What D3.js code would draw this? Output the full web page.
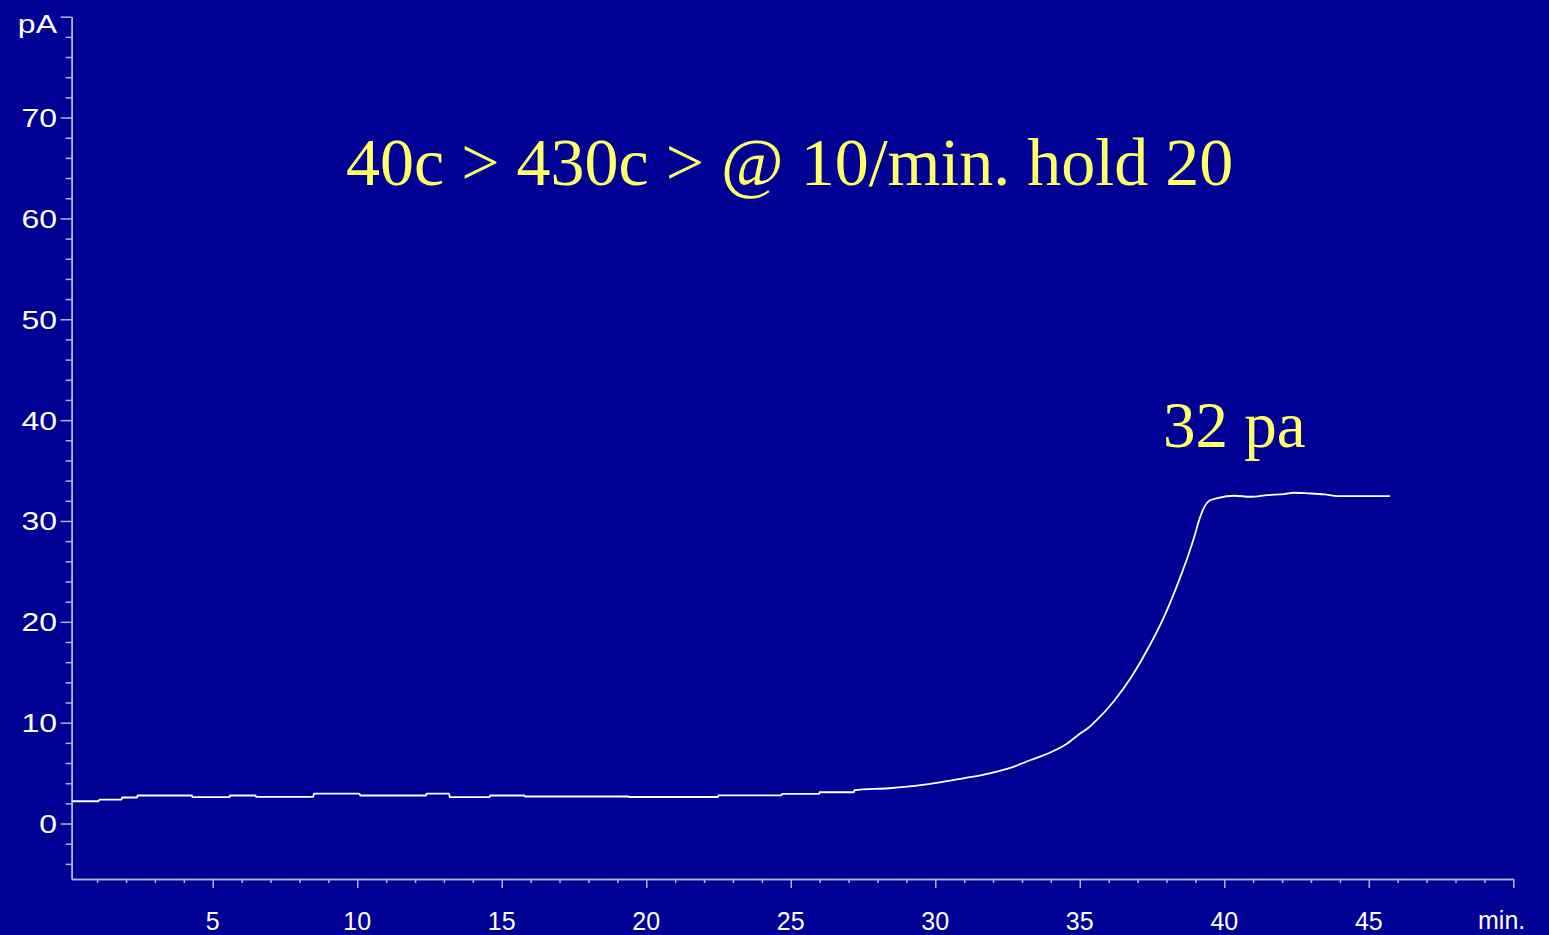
<!DOCTYPE html>
<html>
<head>
<meta charset="utf-8">
<script src="https://cdn.jsdelivr.net/npm/d3@7"></script>
<style>
  html, body { margin: 0; padding: 0; background: #000094; }
  svg { display: block; }
</style>
</head>
<body>
<div id="chart"></div>
<script>
// chromatogram trace: time (min) and signal (pA)
var times = [0.12, 1.05, 1.08, 1.85, 1.86, 2.38, 2.4, 4.28, 4.3, 5.58, 5.6, 6.48, 6.5, 8.48, 8.5, 10.08, 10.1,
  12.38, 12.4, 13.18, 13.2, 14.58, 14.6, 15.78, 15.8, 19.38, 19.4, 22.48, 22.5, 24.68, 24.7, 25.98, 26.0,
  27.18, 27.2, 28.4, 29.5, 30.1, 31.0, 31.6, 32.2, 32.7, 33.3, 33.9, 34.5, 35.0, 35.3, 35.6, 36.2, 36.8,
  37.35, 37.9, 38.27, 38.5, 38.73, 38.96, 39.13, 39.31, 39.48, 39.8, 40.35, 40.9, 41.5, 42.08, 42.4,
  42.9, 43.46, 43.93, 44.6, 45.73];
var signal = [2.21, 2.21, 2.38, 2.38, 2.58, 2.58, 2.78, 2.78, 2.62, 2.62, 2.78, 2.78, 2.65, 2.65, 2.97, 2.97, 2.78,
  2.78, 2.97, 2.97, 2.62, 2.62, 2.78, 2.78, 2.68, 2.68, 2.63, 2.63, 2.8, 2.8, 2.94, 2.94, 3.1,
  3.1, 3.3, 3.5, 3.8, 4.05, 4.5, 4.8, 5.2, 5.62, 6.3, 6.94, 7.8, 8.9, 9.5, 10.3, 12.2, 14.6,
  17.3, 20.4, 22.9, 24.6, 26.4, 28.4, 30.1, 31.4, 32.0, 32.3, 32.5, 32.4, 32.57, 32.67, 32.8,
  32.74, 32.64, 32.47, 32.47, 32.47];

var xMajor = [5, 10, 15, 20, 25, 30, 35, 40, 45, 50];
var xLabels = [5, 10, 15, 20, 25, 30, 35, 40, 45];
var yMajor = [0, 10, 20, 30, 40, 50, 60, 70, 80];
var yLabels = [0, 10, 20, 30, 40, 50, 60, 70];

var titleText = "40c > 430c > @ 10/min. hold 20";
var noteText = "32 pa";

var width = 1549, height = 935;
var bg = "#000094", axisColor = "#b4b4e4", yellow = "#ffff66";

var svg = d3.select("#chart").append("svg")
  .attr("width", width)
  .attr("height", height);

svg.append("rect").attr("width", width).attr("height", height).attr("fill", bg);

var x = d3.scaleLinear().domain([0.12, 50]).range([71.7, 1513.3]);
var y = d3.scaleLinear().domain([-5.5, 80]).range([879, 16.7]);

// minor ticks every 1 min / 2 pA
var xMinor = d3.range(1, 50).filter(function (d) { return d % 5 !== 0; });
var yMinor = d3.range(-4, 80, 2).filter(function (d) { return d % 10 !== 0; });

function styleAxis(g) {
  g.select(".domain").attr("stroke", axisColor).attr("stroke-width", 1.5);
  g.selectAll(".tick line").attr("stroke", axisColor).attr("stroke-width", 1.5);
  g.selectAll(".tick text").remove();
}

// x axis
svg.append("g").attr("transform", "translate(0,879)")
  .call(d3.axisBottom(x).tickValues(xMinor).tickSize(4).tickSizeOuter(0))
  .call(styleAxis);
svg.append("g").attr("transform", "translate(0,879)")
  .call(d3.axisBottom(x).tickValues(xMajor).tickSize(9).tickSizeOuter(0))
  .call(styleAxis);

// y axis
svg.append("g").attr("transform", "translate(71.7,0)")
  .call(d3.axisLeft(y).tickValues(yMinor).tickSize(6).tickSizeOuter(0))
  .call(styleAxis);
svg.append("g").attr("transform", "translate(71.7,0)")
  .call(d3.axisLeft(y).tickValues(yMajor).tickSize(11).tickSizeOuter(0))
  .call(styleAxis);

var labelFont = "'Liberation Sans', Arial, sans-serif";

svg.append("g").selectAll("text").data(xLabels).enter().append("text")
  .attr("x", function (d) { return x(d); })
  .attr("y", 930)
  .attr("text-anchor", "middle")
  .attr("font-family", labelFont)
  .attr("font-size", 25)
  .attr("fill", "#ffffff")
  .text(function (d) { return d; });

svg.append("text")
  .attr("x", 1478).attr("y", 929)
  .attr("font-family", labelFont)
  .attr("font-size", 25)
  .attr("fill", "#ffffff")
  .text("min.");

// y labels are drawn a bit wider than normal
svg.append("g").selectAll("text").data(yLabels).enter().append("text")
  .attr("transform", function (d) { return "translate(57," + (y(d) + 9.5) + ") scale(1.28,1)"; })
  .attr("text-anchor", "end")
  .attr("font-family", labelFont)
  .attr("font-size", 25)
  .attr("fill", "#ffffff")
  .text(function (d) { return d; });

svg.append("text")
  .attr("transform", "translate(57,33) scale(1.28,1)")
  .attr("text-anchor", "end")
  .attr("font-family", labelFont)
  .attr("font-size", 25)
  .attr("fill", "#ffffff")
  .text("pA");

// trace
var line = d3.line()
  .x(function (d) { return x(d[0]); })
  .y(function (d) { return y(d[1]); })
  .curve(d3.curveMonotoneX);

svg.append("path")
  .datum(d3.zip(times, signal))
  .attr("d", line)
  .attr("fill", "none")
  .attr("stroke", "#ffffff")
  .attr("stroke-width", 1.8);

// annotations
svg.append("text")
  .attr("x", 346).attr("y", 185)
  .attr("font-family", "'Liberation Serif', 'Times New Roman', serif")
  .attr("font-size", 68)
  .attr("fill", yellow)
  .text(titleText);

svg.append("text")
  .attr("x", 1163).attr("y", 447)
  .attr("font-family", "'Liberation Serif', 'Times New Roman', serif")
  .attr("font-size", 65)
  .attr("fill", yellow)
  .text(noteText);
</script>
</body>
</html>
